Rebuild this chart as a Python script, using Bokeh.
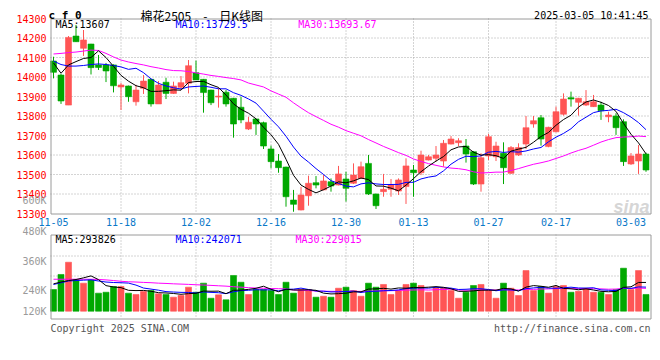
import numpy as np
import pandas as pd
from bokeh.plotting import figure
from bokeh.models import Range1d, ColumnDataSource
from bokeh.core.properties import value
from bokeh.embed import file_html
from bokeh.resources import INLINE

# ---------------- data ----------------
tick_idx = [0, 9, 19, 29, 39, 48, 58, 67, 77]
tick_labels = ["11-05", "11-18", "12-02", "12-16", "12-30", "01-13", "01-27", "02-17", "03-03"]
grid_idx = [9, 19, 29, 39, 48, 58, 67]

opens = [14082, 14010, 13856, 14210, 14147, 14169, 14062, 14062, 14062, 13949,
         13954, 13873, 13942, 13988, 13862, 13973, 13916, 13947, 13968, 14022,
         13988, 13933, 13897, 13922, 13891, 13845, 13733, 13785, 13766, 13631,
         13569, 13538, 13369, 13318, 13391, 13458, 13421, 13463, 13446, 13477,
         13455, 13480, 13557, 13400, 13412, 13424, 13415, 13438, 13523, 13509,
         13574, 13583, 13569, 13656, 13663, 13646, 13617, 13451, 13595, 13591,
         13609, 13506, 13600, 13656, 13759, 13791, 13643, 13719, 13809, 13894,
         13870, 13856, 13848, 13856, 13796, 13800, 13771, 13554, 13569, 13605]
highs = [14104, 14015, 14210, 14267, 14241, 14170, 14113, 14072, 14065, 13969,
         13956, 13960, 14010, 13990, 13979, 13996, 13976, 14005, 14087, 14084,
         13990, 13935, 13944, 13933, 13893, 13899, 13796, 13787, 13771, 13648,
         13605, 13540, 13421, 13437, 13494, 13492, 13497, 13480, 13544, 13514,
         13557, 13566, 13600, 13402, 13503, 13477, 13480, 13583, 13549, 13622,
         13600, 13646, 13677, 13697, 13686, 13682, 13620, 13609, 13708, 13668,
         13665, 13646, 13660, 13800, 13800, 13805, 13745, 13848, 13916, 13925,
         13893, 13933, 13908, 13873, 13822, 13814, 13783, 13610, 13651, 13612]
lows = [13993, 13862, 13856, 14180, 14108, 14013, 14036, 13974, 13921, 13831,
        13873, 13853, 13913, 13848, 13862, 13887, 13914, 13933, 13916, 13985,
        13817, 13856, 13843, 13848, 13689, 13763, 13728, 13703, 13631, 13532,
        13509, 13335, 13309, 13316, 13340, 13429, 13419, 13412, 13444, 13361,
        13451, 13478, 13395, 13323, 13386, 13386, 13395, 13349, 13386, 13497,
        13572, 13566, 13540, 13654, 13646, 13561, 13446, 13412, 13574, 13569,
        13451, 13503, 13595, 13631, 13740, 13648, 13640, 13717, 13802, 13848,
        13802, 13851, 13846, 13780, 13768, 13703, 13544, 13549, 13503, 13514]
closes = [14024, 13877, 14203, 14181, 14190, 14048, 14049, 14031, 13955, 13959,
          13899, 13933, 13979, 13862, 13959, 13916, 13954, 13971, 14058, 13985,
          13920, 13868, 13902, 13862, 13759, 13780, 13768, 13759, 13646, 13566,
          13535, 13386, 13347, 13395, 13455, 13446, 13467, 13441, 13503, 13429,
          13497, 13540, 13400, 13340, 13424, 13446, 13472, 13544, 13509, 13600,
          13591, 13600, 13660, 13682, 13673, 13605, 13451, 13586, 13694, 13646,
          13535, 13638, 13638, 13740, 13776, 13682, 13742, 13822, 13887, 13887,
          13891, 13873, 13873, 13827, 13805, 13740, 13566, 13595, 13605, 13523]
volumes = [232, 393, 524, 336, 300, 336, 193, 203, 264, 264,
           193, 179, 211, 221, 186, 179, 150, 168, 257, 203,
           300, 139, 175, 122, 382, 310, 179, 232, 232, 221,
           179, 310, 193, 232, 232, 150, 160, 150, 246, 257,
           221, 160, 300, 257, 286, 179, 221, 286, 300, 275,
           203, 250, 250, 221, 139, 203, 275, 286, 221, 139,
           300, 246, 168, 435, 221, 264, 193, 264, 275, 203,
           214, 240, 203, 203, 179, 232, 460, 232, 435, 179]  # thousands of lots

# moving-average values before enough history exists
ma5_head = [14072, 14019, 14062, 14079]
ma10_head = [14082, 14064, 14056, 14056, 14059, 14064, 14067, 14064, 14059]
ma30_head = [14118, 14121, 14125, 14128, 14133, 14138, 14136, 14121, 14103, 14087,
             14077, 14069, 14062, 14053, 14046, 14038, 14033, 14032, 14028, 14021,
             14015, 14008, 14003, 13997, 13992, 13985, 13969, 13959, 13949]
vma5_head = [293, 312, 328, 339]
vma10_head = [286, 304, 323, 328, 332, 336, 323, 312, 307]
vma30_head = [342, 342, 342, 342, 342, 342, 340, 335, 328, 320, 315, 312, 308, 305, 300,
              297, 293, 290, 287, 283, 280, 276, 272, 268, 262, 257, 252, 248, 245]

price_ticks = list(range(13300, 14301, 100))
vol_tick_labels = ["600K", "480K", "360K", "240K", "120K"]

hdr_price = ["MA5:13607", "MA10:13729.5", "MA30:13693.67"]
hdr_vol = ["MA5:293826", "MA10:242071", "MA30:229015"]
title_code = "c f 0"
title_text = "棉花2505\u3000-\u3000日K线图"
stamp = "2025-03-05 10:41:45"
copyright_text = "Copyright 2025 SINA.COM"
url_text = "http://finance.sina.com.cn"

# ---------------- layout constants (pixels) ----------------
W, H = 660, 335
LEFT, RIGHT = 50, 650
P_TOP, P_BOT = 18, 213          # price panel
V_TOP, V_BOT = 234, 318         # volume panel
V_ZERO = 310.7                  # volume baseline
V_PER_PX = 10.7                 # thousand lots per pixel
STEP = 7.5                      # px per trading day
X0 = 53                         # centre of first candle

RED = "#ff5555"
GREEN = "#00a800"
GRID = "#a8a8a8"
BORDER = "#9a9a9a"
MONO = "DejaVu Sans Mono"


def ma(series, n, head):
    r = pd.Series(series, dtype=float).rolling(n).mean().to_numpy()
    r[:len(head)] = head
    return r


idx = np.arange(len(closes))
o = np.array(opens, float)
c = np.array(closes, float)
colors = [RED if cc >= oo else GREEN for oo, cc in zip(o, c)]
src = ColumnDataSource(dict(
    x=idx, h=highs, l=lows,
    top=np.maximum(o, c), bot=np.minimum(o, c), col=colors,
    vol=np.array(volumes, float),
    ma5=ma(closes, 5, ma5_head), ma10=ma(closes, 10, ma10_head), ma30=ma(closes, 30, ma30_head),
    vma5=ma(volumes, 5, vma5_head), vma10=ma(volumes, 10, vma10_head),
    vma30=ma(volumes, 30, vma30_head),
))

# scales: the default ranges are page pixels; extra ranges hold the data scales
pmin, pmax = min(price_ticks), max(price_ticks)
ppx = (P_BOT - P_TOP) / (pmax - pmin)
idx_range = Range1d(-(X0 - 0) / STEP, (W - X0) / STEP)
price_range = Range1d(pmin - (H - P_BOT) / ppx, pmax + P_TOP / ppx)
vol_range = Range1d(-(H - V_ZERO) * V_PER_PX, V_ZERO * V_PER_PX)

p = figure(width=W, height=H, x_range=Range1d(0, W), y_range=Range1d(H, 0),
           output_backend="svg", toolbar_location=None,
           x_axis_location=None, y_axis_location=None,
           min_border_left=0, min_border_right=0, min_border_top=0, min_border_bottom=0)
p.extra_x_ranges = {"idx": idx_range}
p.extra_y_ranges = {"price": price_range, "vol": vol_range}
p.xgrid.visible = False
p.ygrid.visible = False
p.outline_line_color = None
p.background_fill_color = "white"
p.border_fill_color = "white"

# ---- grids ----
inner_price = price_ticks[1:-1]
p.segment(x0=[LEFT] * len(inner_price), x1=[RIGHT] * len(inner_price),
          y0=inner_price, y1=inner_price, y_range_name="price",
          line_color=GRID, line_dash="1 2", line_width=1)
p.segment(x0=grid_idx, x1=grid_idx, y0=[P_TOP] * len(grid_idx), y1=[P_BOT] * len(grid_idx),
          x_range_name="idx", line_color=GRID, line_dash="1 2", line_width=1)
p.segment(x0=grid_idx, x1=grid_idx, y0=[V_TOP] * len(grid_idx), y1=[V_BOT] * len(grid_idx),
          x_range_name="idx", line_color=GRID, line_dash="1 2", line_width=1)
vgrid_px = [255.5, 275.5]
p.segment(x0=[LEFT] * 2, x1=[RIGHT] * 2, y0=vgrid_px, y1=vgrid_px,
          line_color=GRID, line_dash="1 2", line_width=1)

# ---- candles ----
p.segment(x0="x", y0="l", x1="x", y1="h", color="col", line_width=1, source=src,
          x_range_name="idx", y_range_name="price")
p.vbar(x="x", width=0.8, top="top", bottom="bot", fill_color="col", line_color="col",
       line_width=0.6, source=src, x_range_name="idx", y_range_name="price")
for col, name in (("#ff00ff", "ma30"), ("#0000ff", "ma10"), ("black", "ma5")):
    p.line("x", name, color=col, line_width=1, source=src, x_range_name="idx", y_range_name="price")

# ---- volume ----
p.vbar(x="x", width=0.8, top="vol", bottom=0, fill_color="col", line_color="col",
       line_width=0.6, source=src, x_range_name="idx", y_range_name="vol")
for col, name in (("#ff00ff", "vma30"), ("#0000ff", "vma10"), ("black", "vma5")):
    p.line("x", name, color=col, line_width=1, source=src, x_range_name="idx", y_range_name="vol")

# ---- panel borders ----
for top, bot in ((P_TOP, P_BOT), (V_TOP, V_BOT)):
    p.quad(left=LEFT + 0.5, right=RIGHT + 0.5, top=top + 0.5, bottom=bot + 0.5,
           fill_color=None, line_color=BORDER, line_width=1)

# ---- texts ----
def txt(x, y, t, color="black", size="10px", align="left", baseline="middle",
        font=MONO, style="normal", **kw):
    p.text(x=x, y=y, text=t, text_color=color, text_font=value(font),
           text_font_size=size, text_align=align, text_baseline=baseline,
           text_font_style=style, **kw)

# price axis labels
txt([LEFT - 4] * len(price_ticks), price_ticks, [str(t) for t in price_ticks],
    color="#ff0000", align="right", y_range_name="price")
# date labels
txt(tick_idx, [221.5] * len(tick_idx), tick_labels, color="#0a78c8", align="center",
    x_range_name="idx")
# volume axis labels
txt([LEFT - 4] * 5, [200, 231, 260.5, 290, 310.7], vol_tick_labels, color="#9a9a9a",
    align="right")
# headers
txt([55, 175, 297.7], [23.7] * 3, hdr_price, color=["black", "#0000ff", "#ff00ff"])
txt([55, 175, 295], [239.3] * 3, hdr_vol, color=["black", "#0000ff", "#ff00ff"])
txt([48], [15], [title_code], size="11px", baseline="alphabetic", style="bold")
txt([140], [14.5], [title_text], size="12px", baseline="alphabetic", font="Noto Sans CJK SC")
txt([648], [15], [stamp], align="right", baseline="alphabetic")
txt([LEFT], [327.5], [copyright_text], color="#555555", baseline="alphabetic")
txt([RIGHT], [327.5], [url_text], color="#555555", align="right", baseline="alphabetic")
txt([RIGHT - 1], [206], ["sina"], color="#d6d6d6", size="18px", align="right",
    baseline="alphabetic", font="Liberation Sans", style="bold italic")

open("out.html", "w").write(file_html(p, INLINE))
